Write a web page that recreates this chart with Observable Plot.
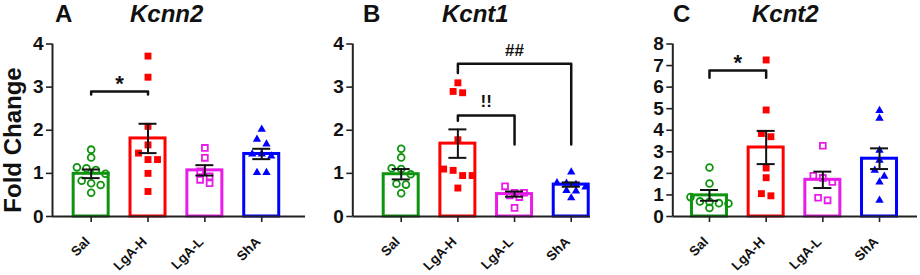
<!DOCTYPE html>
<html>
<head>
<meta charset="utf-8">
<script src="https://cdn.jsdelivr.net/npm/d3@7"></script>
<script src="https://cdn.jsdelivr.net/npm/@observablehq/plot@0.6"></script>
<style>
  html, body { margin: 0; padding: 0; background: #fff; }
  #wrap { position: relative; width: 920px; height: 275px; overflow: hidden; background: #fff;
          font-family: 'Liberation Sans', Arial, Helvetica, sans-serif; color: #111; }
  .panel { position: absolute; top: 0; }
  .panel svg { background: transparent !important; overflow: visible; }
  .ttl { position: absolute; top: 1.5px; font-size: 24px; line-height: 24px; font-weight: bold; white-space: nowrap; }
  .gene { font-style: italic; }
  #ylab { position: absolute; left: 12.5px; top: 140px; transform: translate(-50%, -50%) rotate(-90deg);
          font-size: 24px; line-height: 24px; font-weight: bold; white-space: nowrap; }
</style>
</head>
<body>
<div id="wrap">
  <div class="ttl" style="left:55px">A</div>
  <div class="ttl gene" style="left:130px">Kcnn2</div>
  <div class="ttl" style="left:363px">B</div>
  <div class="ttl gene" style="left:442px">Kcnt1</div>
  <div class="ttl" style="left:673px">C</div>
  <div class="ttl gene" style="left:752px">Kcnt2</div>
  <div id="ylab">Fold Change</div>
  <div class="panel" id="pA" style="left:0px"></div>
  <div class="panel" id="pB" style="left:300px"></div>
  <div class="panel" id="pC" style="left:620px"></div>
</div>
<script>
// ---- data ----
const groups = ["Sal", "LgA-H", "LgA-L", "ShA"];
const groupColors = ["#0f940f", "#ff0000", "#e81ce8", "#0000ff"];

// Kcnn2 (panel A)
const kcnn2Points = [
  [1.55, 1.37, 1.14, 1.12, 1.08, 0.99, 0.83, 0.77, 0.73, 0.55],
  [3.72, 3.23, 2.09, 1.66, 1.47, 1.32, 1.32, 1.00, 0.58],
  [1.59, 1.36, 1.05, 0.93, 0.85, 0.77],
  [2.02, 1.79, 1.68, 1.45, 1.45, 1.40, 1.02, 1.02]
];
const kcnn2Means = [0.99, 1.81, 1.07, 1.45];
const kcnn2Sems = [0.10, 0.34, 0.12, 0.12];
const kcnn2Ticks = [0, 1, 2, 3, 4];
const kcnn2Brackets = [[0, 1, 2.90, 2.83, 2.83]];
const kcnn2Notes = [{x: 0.5, y: 3.08, text: "*"}];

// Kcnt1 (panel B)
const kcnt1Points = [
  [1.57, 1.37, 1.12, 1.10, 0.98, 0.76, 0.74, 0.54],
  [3.10, 2.90, 2.87, 1.78, 1.10, 1.07, 0.95, 0.95, 0.66],
  [0.70, 0.55, 0.55, 0.49, 0.45, 0.20],
  [1.03, 0.78, 0.77, 0.74, 0.68, 0.60, 0.59, 0.43]
];
const kcnt1Means = [0.98, 1.69, 0.52, 0.74];
const kcnt1Sems = [0.12, 0.33, 0.06, 0.05];
const kcnt1Ticks = [0, 1, 2, 3, 4];
const kcnt1Brackets = [[1, 3, 3.54, 3.33, 1.67], [1, 2, 2.34, 2.22, 1.67]];
const kcnt1Notes = [{x: 2, y: 3.85, text: "##"}, {x: 1.5, y: 2.66, text: "!!"}];

// Kcnt2 (panel C)
const kcnt2Points = [
  [2.27, 1.53, 0.90, 0.70, 0.68, 0.62, 0.60, 0.40],
  [7.26, 4.94, 3.85, 3.70, 2.25, 1.80, 1.06, 0.96],
  [3.28, 1.89, 1.79, 1.60, 0.87, 0.75],
  [4.91, 4.55, 3.07, 2.61, 2.14, 1.86, 1.60, 0.75]
];
const kcnt2Means = [0.98, 3.20, 1.70, 2.68];
const kcnt2Sems = [0.25, 0.77, 0.38, 0.48];
const kcnt2Ticks = [0, 1, 2, 3, 4, 5, 6, 7, 8];
const kcnt2Brackets = [[0, 1, 6.77, 6.44, 6.44]];
const kcnt2Notes = [{x: 0.5, y: 7.12, text: "*"}];

// ---- drawing ----
const FONT = "'Liberation Sans', Arial, Helvetica, sans-serif";
const INK = "#111";
const AXIS = "#222";

// GraphPad-like scatter: rows of points with close values are spread symmetrically
function swarm(values, gi, kyPx, stepPx, threshPx) {
  const sorted = values.slice().sort((a, b) => b - a);
  const rows = [];
  let cur = null;
  for (const v of sorted) {
    if (!cur || (cur.start - v) * kyPx >= threshPx) { cur = {start: v, vals: []}; rows.push(cur); }
    cur.vals.push(v);
  }
  const out = [];
  for (const r of rows) {
    const n = r.vals.length;
    r.vals.forEach((v, j) => out.push({g: gi, v, off: (j - (n - 1) / 2) * stepPx}));
  }
  return out;
}

function makePanel({width, ml, xDomain, yTicks, points, means, sems, brackets, notes}) {
  const H = 275, mt = 43.5, mb = 59;
  const yMax = yTicks[yTicks.length - 1];
  const x0 = xDomain[0];
  const kx = (width - ml) / (xDomain[1] - xDomain[0]);
  const ky = (H - mt - mb) / yMax;
  const dots = points.flatMap((vals, gi) =>
    swarm(vals, gi, ky, 9.5, 7).map(d => ({...d, x: gi + d.off / kx})));
  const bars = means.map((m, i) => ({i, m, lo: m - sems[i], hi: m + sems[i], c: groupColors[i]}));
  const hw = 17.5 / kx, cap = 9 / kx, tick = 6;
  const brPts = brackets.flatMap(([a, b, top, la, lb], id) => [
    {id, x: a, y: la}, {id, x: a, y: top}, {id, x: b, y: top}, {id, x: b, y: lb}
  ]);
  const gIdx = groups.map((g, i) => i);
  const sel = g => dots.filter(d => d.g === g);
  return Plot.plot({
    width, height: H,
    marginTop: mt, marginBottom: mb, marginLeft: ml, marginRight: 0,
    style: {fontFamily: FONT, background: "transparent", color: INK, overflow: "visible"},
    x: {domain: xDomain, axis: null},
    y: {domain: [0, yMax], axis: null},
    color: {type: "identity"},
    marks: [
      Plot.rectY(bars, {x1: d => d.i - hw, x2: d => d.i + hw, y1: 0, y2: "m",
        fill: "white", stroke: "c", strokeWidth: 3}),
      Plot.dot(sel(0), {x: "x", y: "v", symbol: "circle", r: 3.4, fill: "none",
        stroke: groupColors[0], strokeWidth: 1.8}),
      Plot.dot(sel(1), {x: "x", y: "v", symbol: "square", r: 3.9, fill: groupColors[1], stroke: "none"}),
      Plot.dot(sel(2), {x: "x", y: "v", symbol: "square", r: 3.3, fill: "none",
        stroke: groupColors[2], strokeWidth: 1.8}),
      Plot.dot(sel(3), {x: "x", y: "v", symbol: "triangle", r: 3.1, fill: groupColors[3], stroke: "none"}),
      Plot.ruleX(bars, {x: "i", y1: "lo", y2: "hi", stroke: INK, strokeWidth: 2}),
      Plot.ruleY(bars, {y: "hi", x1: d => d.i - cap, x2: d => d.i + cap, stroke: INK, strokeWidth: 2}),
      Plot.ruleY(bars, {y: "lo", x1: d => d.i - cap, x2: d => d.i + cap, stroke: INK, strokeWidth: 2}),
      // axis lines
      Plot.ruleY([0], {stroke: AXIS, strokeWidth: 2}),
      Plot.ruleX([x0], {y1: 0, y2: yMax, stroke: AXIS, strokeWidth: 2}),
      // y ticks and labels
      Plot.ruleY(yTicks, {y: d => d, x1: x0 - tick / kx, x2: x0, stroke: AXIS, strokeWidth: 1.6}),
      Plot.text(yTicks, {x: x0, y: d => d, text: d => String(d), dx: -9, textAnchor: "end",
        fontSize: 19, fontWeight: "bold", fill: INK}),
      // x ticks and rotated category labels
      Plot.ruleX(gIdx, {x: d => d, y1: 0, y2: -tick / ky, stroke: AXIS, strokeWidth: 1.6}),
      Plot.text(gIdx, {x: d => d, y: 0, text: d => groups[d], rotate: -45, textAnchor: "end",
        dx: -3.5, dy: 23, fontSize: 13.5, fontWeight: "bold", fill: INK}),
      // significance brackets
      Plot.line(brPts, {x: "x", y: "y", z: "id", stroke: INK, strokeWidth: 2.5, curve: "linear"}),
      Plot.text(notes, {x: "x", y: "y", text: "text", fontSize: d => d.text === "*" ? 22 : 17,
        fontWeight: "bold", fill: INK})
    ]
  });
}

document.getElementById("pA").append(makePanel({
  width: 305, ml: 52, xDomain: [-0.68, 3.77], yTicks: kcnn2Ticks,
  points: kcnn2Points, means: kcnn2Means, sems: kcnn2Sems, brackets: kcnn2Brackets, notes: kcnn2Notes
}));
document.getElementById("pB").append(makePanel({
  width: 290, ml: 52.3, xDomain: [-0.854, 3.34], yTicks: kcnt1Ticks,
  points: kcnt1Points, means: kcnt1Means, sems: kcnt1Sems, brackets: kcnt1Brackets, notes: kcnt1Notes
}));
document.getElementById("pC").append(makePanel({
  width: 297, ml: 52.3, xDomain: [-0.647, 3.67], yTicks: kcnt2Ticks,
  points: kcnt2Points, means: kcnt2Means, sems: kcnt2Sems, brackets: kcnt2Brackets, notes: kcnt2Notes
}));
</script>
</body>
</html>
